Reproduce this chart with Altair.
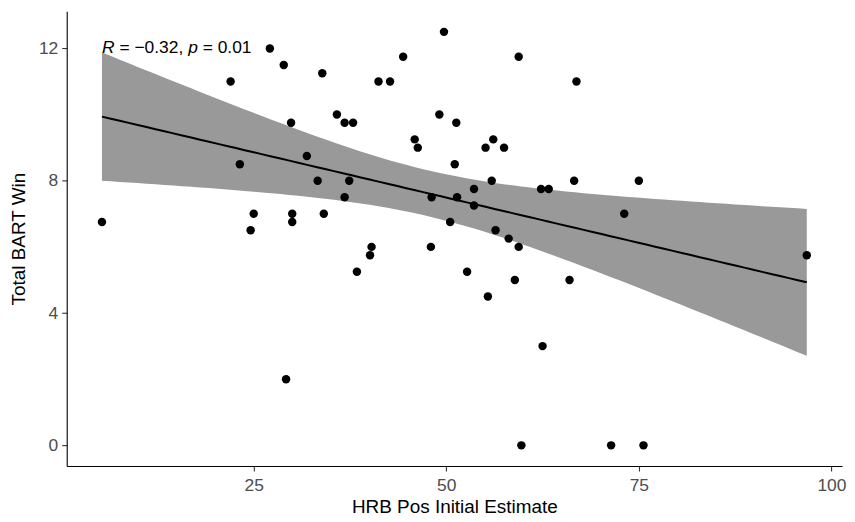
import altair as alt
import numpy as np
import pandas as pd

# Data
hrb = [5.3, 22.0, 23.2, 25.0, 24.6, 27.1, 28.9, 29.2, 29.85, 30.0, 30.0, 31.9, 33.3,
       33.9, 34.1, 35.8, 36.8, 37.9, 36.8, 37.4, 38.4, 40.3, 40.1, 41.2, 42.7, 44.4,
       45.9, 46.3, 48.0, 48.1, 49.1, 49.7, 50.5, 51.1, 51.3, 51.4, 52.7, 53.6, 53.6,
       55.1, 55.4, 55.9, 56.1, 56.4, 57.5, 58.1, 58.9, 59.4, 59.4, 59.75, 62.3, 62.5,
       63.3, 66.0, 66.6, 66.9, 71.4, 73.1, 75.0, 75.6, 96.8]
bart = [6.75, 11.0, 8.5, 7.0, 6.5, 12.0, 11.5, 2.0, 9.75, 7.0, 6.75, 8.75, 8.0,
        11.25, 7.0, 10.0, 9.75, 9.75, 7.5, 8.0, 5.25, 6.0, 5.75, 11.0, 11.0, 11.75,
        9.25, 9.0, 6.0, 7.5, 10.0, 12.5, 6.75, 8.5, 9.75, 7.5, 5.25, 7.75, 7.25,
        9.0, 4.5, 8.0, 9.25, 6.5, 9.0, 6.25, 5.0, 11.75, 6.0, 0.0, 7.75, 3.0,
        7.75, 5.0, 8.0, 11.0, 0.0, 7.0, 8.0, 0.0, 5.75]
x_ticks = [25, 50, 75, 100]
y_ticks = [0, 4, 8, 12]
r_label = "= \u22120.32,"
p_label = "= 0.01"
label_y = 12

x = np.array(hrb)
y = np.array(bart)
n = len(x)

# Linear model fit with 95% confidence band (as geom_smooth(method="lm"))
xbar, ybar = x.mean(), y.mean()
sxx = ((x - xbar) ** 2).sum()
slope = ((x - xbar) * (y - ybar)).sum() / sxx
intercept = ybar - slope * xbar
resid = y - (intercept + slope * x)
s = np.sqrt((resid ** 2).sum() / (n - 2))
tcrit = 2.001  # t(0.975, df=59)
xs = np.linspace(x.min(), x.max(), 80)
fit = intercept + slope * xs
se = s * np.sqrt(1.0 / n + (xs - xbar) ** 2 / sxx)
fit_df = pd.DataFrame({"x": xs, "fit": fit, "lo": fit - tcrit * se, "hi": fit + tcrit * se})
pts = pd.DataFrame({"x": x, "y": y})

# ggplot-like 5% expansion
xr = x.max() - x.min()
yr = y.max() - y.min()
xdom = [x.min() - 0.05 * xr, x.max() + 0.05 * xr]
ydom = [y.min() - 0.05 * yr, y.max() + 0.05 * yr]

xscale = alt.Scale(domain=xdom, nice=False, zero=False)
yscale = alt.Scale(domain=ydom, nice=False, zero=False)
xaxis = alt.Axis(values=x_ticks, title="HRB Pos Initial Estimate", labelPadding=6, titlePadding=3)
yaxis = alt.Axis(values=y_ticks, title="Total BART Win", labelPadding=4, titlePadding=10)

band = alt.Chart(fit_df).mark_area(color="#999999", opacity=1).encode(
    x=alt.X("x:Q", scale=xscale, axis=xaxis),
    y=alt.Y("lo:Q", scale=yscale, axis=yaxis),
    y2="hi:Q",
)
line = alt.Chart(fit_df).mark_line(color="black", strokeWidth=2).encode(
    x=alt.X("x:Q", scale=xscale, axis=xaxis),
    y=alt.Y("fit:Q", scale=yscale, axis=yaxis),
)
points = alt.Chart(pts).mark_circle(color="black", opacity=1, size=72).encode(
    x=alt.X("x:Q", scale=xscale, axis=xaxis),
    y=alt.Y("y:Q", scale=yscale, axis=yaxis),
)

fs = 17.5
lab_df = pd.DataFrame({"x": [x.min()], "y": [label_y]})
segments = [("R", "italic", 0.0), (r_label, "normal", 1.0),
            ("p", "italic", 4.948), (p_label, "normal", 5.782)]
texts = []
for txt, style, off in segments:
    texts.append(
        alt.Chart(lab_df).mark_text(
            text=txt, fontStyle=style, font="Liberation Sans", fontSize=fs,
            align="left", baseline="alphabetic", dx=off * fs, dy=5, color="black",
        ).encode(
            x=alt.X("x:Q", scale=xscale, axis=xaxis),
            y=alt.Y("y:Q", scale=yscale, axis=yaxis),
        )
    )

chart = alt.layer(band, line, points, *texts).properties(
    width=779, height=457,
    autosize=alt.AutoSizeParams(type="none"),
    padding={"left": 59, "top": 2, "right": 5, "bottom": 50},
).configure_view(stroke=None).configure_axis(
    grid=False, domainColor="black", domainWidth=1.1,
    tickColor="#333333", tickWidth=1.1, tickSize=5,
    labelColor="#4D4D4D", labelFont="Liberation Sans", labelFontSize=17.5,
    titleFont="Liberation Sans", titleFontSize=19, titleColor="black",
    titleFontWeight="normal",
)

chart.save("out.html", embed_options={"renderer": "svg", "actions": False})
